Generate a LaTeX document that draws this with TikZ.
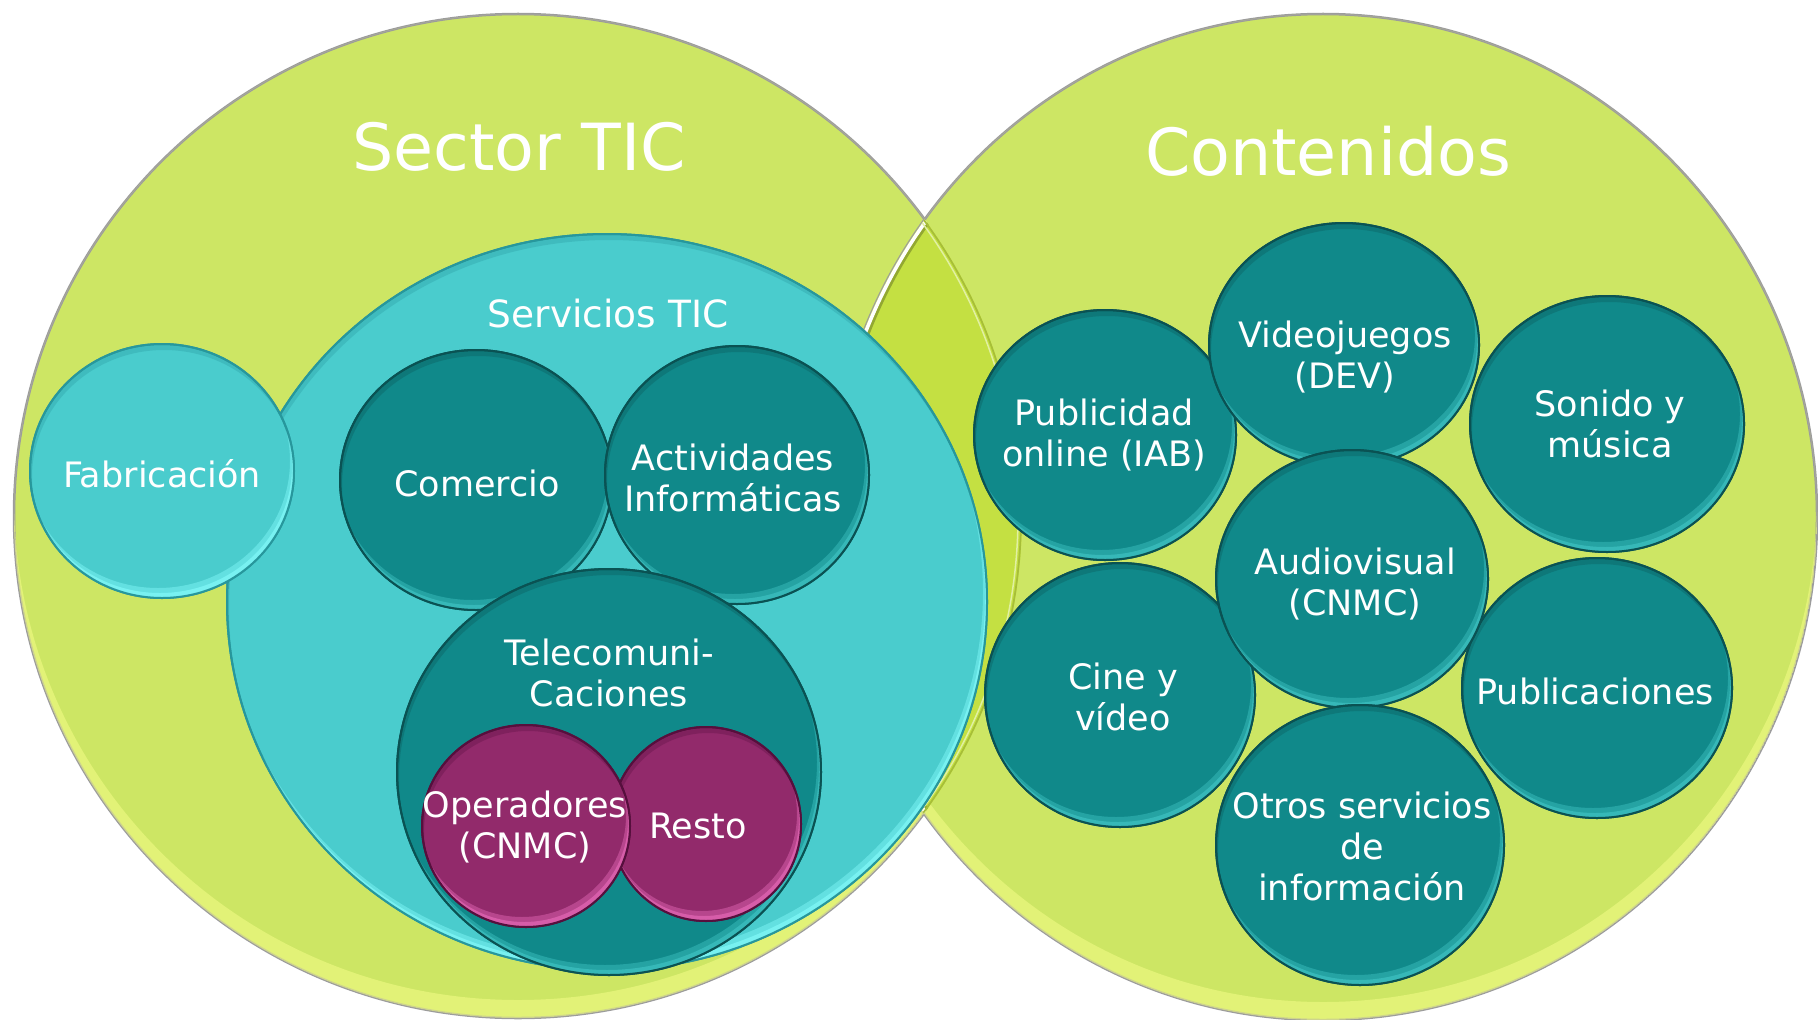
\documentclass[tikz,border=0pt]{standalone}
\usepackage{fontspec}
\setmainfont{DejaVu Sans}
\usetikzlibrary{shapes.geometric}
\definecolor{lime}{HTML}{CDE664}
\definecolor{overlapc}{HTML}{C4E042}
\definecolor{bigedge}{HTML}{9C9C9C}
\definecolor{limelight}{HTML}{F0FA84}
\definecolor{cyfill}{HTML}{4ACCCD}
\definecolor{cyedge}{HTML}{27979C}
\definecolor{cylight}{HTML}{8AFFFF}
\definecolor{tlfill}{HTML}{10898A}
\definecolor{tledge}{HTML}{0A5253}
\definecolor{tllight}{HTML}{45CACA}
\definecolor{mgfill}{HTML}{922A6B}
\definecolor{mgedge}{HTML}{560F3D}
\definecolor{mglight}{HTML}{F070C0}
\newcommand\bub[6]{%
  \node[bubble, fill=#6fill, draw=#6edge, minimum width={2*#4*0.4pt}, minimum height={2*#5*0.4pt}] (#1) at (#2,-#3) {};
  \pgfmathsetmacro\cxa{#2-4}\pgfmathsetmacro\cya{-#3+10}%
  \pgfmathsetmacro\cxb{#2-2}\pgfmathsetmacro\cyb{-#3+5}%
  \pgfmathsetmacro\cxc{#2+2}\pgfmathsetmacro\cyc{-#3-6}%
  \begin{scope}
    \clip (#2,-#3) ellipse [x radius=#4, y radius=#5];
    \fill[#6light, opacity=0.4, even odd rule] (#2,-#3) ellipse [x radius=#4, y radius=#5] (\cxa,\cya) ellipse [x radius=#4, y radius=#5];
    \fill[#6light, opacity=0.55, even odd rule] (#2,-#3) ellipse [x radius=#4, y radius=#5] (\cxb,\cyb) ellipse [x radius=#4, y radius=#5];
    \fill[#6edge, opacity=0.3, even odd rule] (#2,-#3) ellipse [x radius=#4, y radius=#5] (\cxc,\cyc) ellipse [x radius=#4, y radius=#5];
  \end{scope}
  \draw[#6edge, line width=0.8pt] (#1.center) ellipse [x radius=#4, y radius=#5];
}
\begin{document}
\begin{tikzpicture}[x=0.4pt,y=0.4pt,
  bubble/.style={ellipse, inner sep=0pt, outer sep=0pt, line width=0.8pt},
  lbl/.style={text=white, font=\fontsize{14}{16.4}\selectfont, align=center, inner sep=0pt},
  ttl/.style={text=white, font=\fontsize{26}{30}\selectfont, inner sep=0pt}]
\useasboundingbox (0,0) rectangle (1818,-1019);
\fill[white] (0,0) rectangle (1818,-1019);
% big circles
\node[bubble, fill=lime, draw=bigedge, line width=1pt, minimum width={1008*0.4pt}, minimum height={1004*0.4pt}] (tic) at (518,-516) {};
\node[bubble, fill=lime, draw=bigedge, line width=1pt, minimum width={988*0.4pt}, minimum height={1006*0.4pt}] (cont) at (1323,-517) {};
\begin{scope}
  \clip (518,-516) ellipse [x radius=504, y radius=502];
  \fill[limelight, opacity=0.6, even odd rule] (518,-516) ellipse [x radius=504, y radius=502] (518,-498) ellipse [x radius=504, y radius=502];
\end{scope}
\begin{scope}
  \clip (1323,-517) ellipse [x radius=494, y radius=503];
  \fill[limelight, opacity=0.6, even odd rule] (1323,-517) ellipse [x radius=494, y radius=503] (1323,-499) ellipse [x radius=494, y radius=503];
\end{scope}
\begin{scope}
  \clip (518,-516) ellipse [x radius=504, y radius=502];
  \fill[overlapc] (1323,-517) ellipse [x radius=494, y radius=503];
  \draw[black!25!overlapc, line width=1.2pt] (1323,-517) ellipse [x radius=489, y radius=498];
  \draw[white, line width=1.4pt] (1323,-517) ellipse [x radius=492, y radius=501];
\end{scope}
\begin{scope}
  \clip (1323,-517) ellipse [x radius=494, y radius=503];
  \draw[black!15!overlapc, line width=0.7pt] (518,-516) ellipse [x radius=503, y radius=501];
  \draw[lime!60!white, line width=0.6pt] (518,-516) ellipse [x radius=500, y radius=498];
\end{scope}
% titles
\node[ttl] (t-tic) at (519,-147) {Sector TIC};
\node[ttl] (t-cont) at (1328,-151) {Contenidos};
% Servicios TIC
\bub{serv}{607}{602}{380}{368}{cy}
\node[lbl, font=\fontsize{15}{18}\selectfont] (t-serv) at (608,-314) {Servicios TIC};
\bub{fab}{162}{471}{132}{127}{cy}
\node[lbl] (t-fab) at (162,-474) {Fabricación};
\bub{com}{476}{480}{136}{130}{tl}
\node[lbl] (t-com) at (477,-483) {Comercio};
\bub{act}{737}{475}{132}{129}{tl}
\node[lbl] (t-act) at (733,-478) {Actividades\\Informáticas};
\bub{tel}{609}{772}{212}{203}{tl}
\node[lbl] (t-tel) at (609,-673) {Telecomuni-\\Caciones};
\bub{res}{706}{824}{95}{97}{mg}
\node[lbl] (t-res) at (698,-826) {Resto};
\bub{ope}{526}{826}{104}{101}{mg}
\node[lbl] (t-ope) at (525,-827) {Operadores\\(CNMC)};
% Contenidos
\bub{pub}{1105}{435}{131}{125}{tl}
\node[lbl] (t-pub) at (1104,-435) {Publicidad\\online (IAB)};
\bub{cine}{1120}{695}{135}{132}{tl}
\node[lbl] (t-cine) at (1123,-697) {Cine y\\vídeo};
\bub{vid}{1344}{345}{135}{122}{tl}
\node[lbl] (t-vid) at (1345,-357) {Videojuegos\\(DEV)};
\bub{son}{1607}{424}{137}{128}{tl}
\node[lbl] (t-son) at (1610,-424) {Sonido y\\música};
\bub{publ}{1597}{688}{135}{130}{tl}
\node[lbl] (t-publ) at (1595,-691) {Publicaciones};
\bub{aud}{1352}{579}{136}{129}{tl}
\node[lbl] (t-aud) at (1355,-584) {Audiovisual\\(CNMC)};
\bub{otr}{1360}{845}{144}{140}{tl}
\node[lbl] (t-otr) at (1362,-846) {Otros servicios\\de\\información};
\end{tikzpicture}
\end{document}
